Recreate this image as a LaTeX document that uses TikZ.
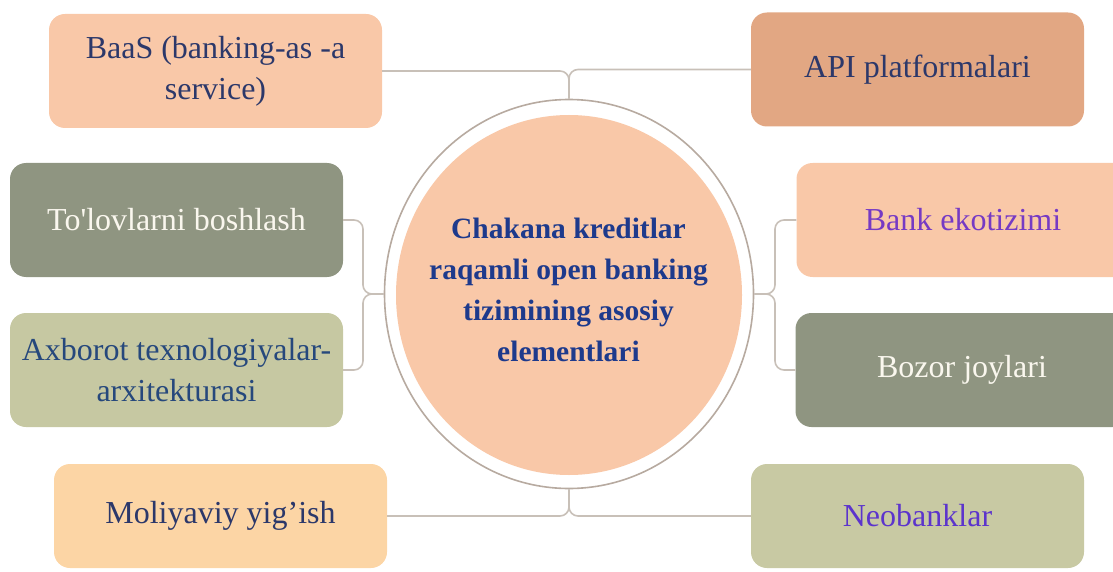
\documentclass[tikz,border=0pt]{standalone}
\usepackage{fontspec}
\setmainfont{Liberation Serif}
\usetikzlibrary{shapes.geometric}
\definecolor{peach}{RGB}{249,200,168}
\definecolor{peachdark}{RGB}{226,167,131}
\definecolor{sand}{RGB}{252,213,165}
\definecolor{sage}{RGB}{143,149,129}
\definecolor{olive}{RGB}{198,200,162}
\definecolor{olive2}{RGB}{200,201,163}
\definecolor{navy}{RGB}{44,56,106}
\definecolor{axblue}{RGB}{38,72,124}
\definecolor{cream}{RGB}{250,247,238}
\definecolor{violet1}{RGB}{118,58,196}
\definecolor{violet2}{RGB}{92,52,204}
\definecolor{centerblue}{RGB}{30,58,140}
\definecolor{linecol}{RGB}{200,192,184}
\definecolor{rimcol}{RGB}{183,170,160}
\tikzset{
  box/.style={rectangle, rounded corners=16pt, minimum width=333pt, minimum height=114pt,
    inner sep=2pt, align=center, font={\fontsize{32}{41}\selectfont}},
  link/.style={draw=linecol, line width=1.6pt, rounded corners=9pt},
}
\begin{document}
\begin{tikzpicture}[x=1pt,y=-1pt]
\useasboundingbox (0,0) rectangle (1113,572);
% central element
\node[ellipse, draw=rimcol, fill=white, line width=1.6pt,
      minimum width=369pt, minimum height=389pt, inner sep=0pt] (rim) at (569,294) {};
\node[ellipse, fill=peach, minimum width=346pt, minimum height=360pt, inner sep=0pt] (core) at (569,295) {};
\node[align=center, text=centerblue, font={\bfseries\fontsize{29.5}{41}\selectfont}] (title) at (568.5,290)
  {Chakana kreditlar\\raqamli open banking\\tizimining asosiy\\elementlari};
% boxes
\node[box, fill=peach, text=navy] (baas) at (215.5,71) {BaaS (banking-as -a\\service)};
\node[box, fill=peachdark, text=navy] (api) at (917.5,69.5) {API platformalari};
\node[box, fill=sage, text=cream] (tol) at (176.5,220) {To\textquotesingle lovlarni boshlash};
\node[box, fill=olive, text=axblue] (axb) at (176.5,370) {Axborot texnologiyalar-\\arxitekturasi};
\node[box, fill=peach, text=violet1] (bank) at (963,220) {Bank ekotizimi};
\node[box, fill=sage, text=cream] (bozor) at (962,370) {Bozor joylari};
\node[box, fill=sand, text=navy, minimum height=104pt] (moli) at (220.5,516) {Moliyaviy yig’ish};
\node[box, fill=olive2, text=violet2, minimum height=104pt] (neo) at (917.5,516) {Neobanklar};
% connectors
\coordinate (topj) at (569,71);
\coordinate (botj) at (569,518);
\coordinate (leftj) at (363,294);
\coordinate (rightj) at (775,294);
\draw[link] (baas.east) -- (baas.east -| topj) -- (rim.north);
\draw[link] (api.west) -- (api.west -| topj) -- (rim.north);
\draw[link] (moli.east) -- (moli.east -| botj) -- (rim.south);
\draw[link] (neo.west) -- (neo.west -| botj) -- (rim.south);
\draw[link] (tol.east) -- (tol.east -| leftj) -- (leftj) -- (rim.west);
\draw[link] (axb.east) -- (axb.east -| leftj) -- (leftj) -- (rim.west);
\draw[link] (bank.west) -- (bank.west -| rightj) -- (rightj) -- (rim.east);
\draw[link] (bozor.west) -- (bozor.west -| rightj) -- (rightj) -- (rim.east);
\end{tikzpicture}
\end{document}
